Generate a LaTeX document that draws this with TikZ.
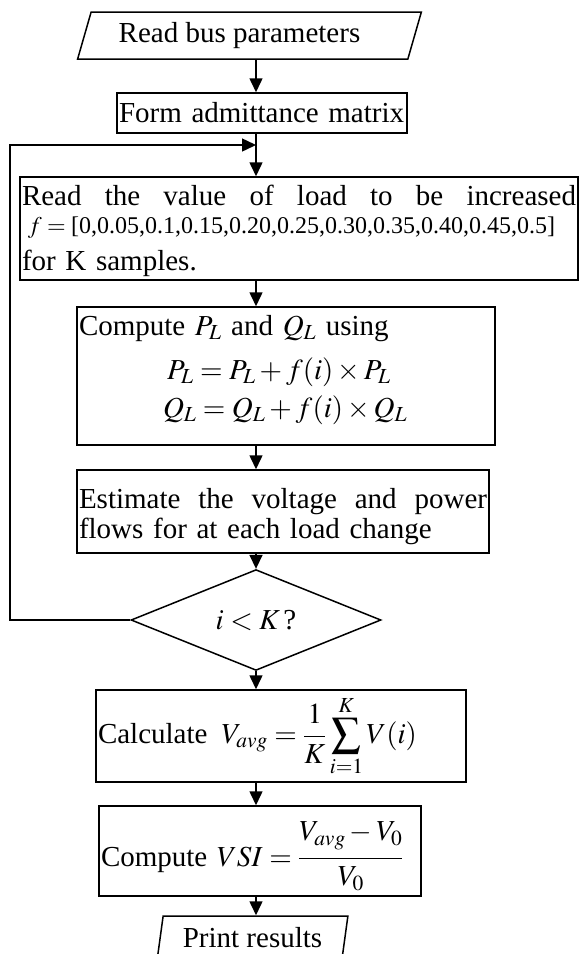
\documentclass[tikz,border=0pt]{standalone}
\usepackage{mathptmx}
\usepackage{fontspec}
\setmainfont{Liberation Serif}
\usetikzlibrary{arrows.meta,shapes.geometric}
\newcommand{\fillline}[2]{\makebox[#1][s]{\spaceskip=0pt\xspaceskip=0pt #2}}
\tikzset{
  blk/.style={draw, line width=1.5pt, rectangle, inner xsep=2pt, inner ysep=0pt},
  iobox/.style={draw, line width=1.5pt, trapezium, trapezium stretches=true, inner sep=0pt},
  decide/.style={draw, line width=1.5pt, diamond, inner sep=0pt},
  flowarr/.style={-{Triangle[length=14pt,width=13pt]}, line width=1.5pt},
}

\begin{document}
\begin{tikzpicture}[x=1pt, y=-1pt, font=\fontsize{29}{32}\selectfont]
  \useasboundingbox (0,0) rectangle (579,954);
  % main axis and loop corner
  \coordinate (ax) at (256,0);
  \coordinate (lpin) at (256,145);
  \coordinate (lpx) at (10,145);

  \node[iobox, trapezium left angle=67, trapezium right angle=113,
        minimum width=345pt, minimum height=47pt] (bus) at (249.5,35.5)
        {Read bus parameters\hspace*{20pt}};
  \node[blk, text width=286pt, minimum height=40pt] (form) at (262,113)
        {Form admittance matrix};
  \node[blk, text width=554pt, text height=28pt, text depth=75pt,
        minimum height=103pt] (read) at (299,228.5)
        {\fillline{554pt}{Read the value of load to be increased}\\[-4pt]
         {\fontsize{24}{26}\selectfont\hspace*{6pt}$f={}$[0,0.05,0.1,0.15,0.20,0.25,0.30,0.35,0.40,0.45,0.5]}\\[5pt]
         for K samples.};
  \node[blk, text width=414pt, minimum height=138pt] (pq) at (286,376)
        {Compute $P_L$ and $Q_L$ using\\[12pt]
         \hspace*{88pt}$P_L = P_L + f(i)\times P_L$\\[6pt]
         \hspace*{84pt}$Q_L = Q_L + f(i)\times Q_L$\rule[-20pt]{0pt}{1pt}};
  \node[blk, text width=408pt, text height=38pt, text depth=45pt,
        minimum height=83pt, font=\fontsize{29}{30}\selectfont] (est) at (283,511.5)
        {\fillline{408pt}{Estimate the voltage and power}\\
         flows for at each load change};
  \node[decide, minimum width=250pt, minimum height=74pt] (test) at (256,620)
        {$i<K\,$?};
  \node[blk, text width=366pt, minimum height=92pt] (vavg) at (281,736)
        {Calculate\hspace*{14pt}$\displaystyle V_{avg} = \frac{1}{K}\sum_{i=1}^{K}V(i)$};
  \node[blk, text width=318pt, text height=60pt, text depth=30pt,
        minimum height=90pt] (vsi) at (260,851)
        {Compute $\displaystyle VSI=\frac{V_{avg}-V_0\rule[-14pt]{0pt}{1pt}}{V_0}$};
  \node[iobox, trapezium left angle=77, trapezium right angle=103,
        minimum width=191pt, minimum height=44pt] (prt) at (252.5,938)
        {Print results};

  \draw[flowarr] (bus.south -| ax) -- (form.north -| ax);
  \draw[flowarr] (form.south -| ax) -- (read.north -| ax);
  \draw[flowarr] (test.west) -| (lpx) -- (lpin);
  \draw[flowarr] (read.south -| ax) -- (pq.north -| ax);
  \draw[flowarr] (pq.south -| ax) -- (est.north -| ax);
  \draw[flowarr] (est.south -| ax) -- (test.north);
  \draw[flowarr] (test.south) -- (vavg.north -| ax);
  \draw[flowarr] (vavg.south -| ax) -- (vsi.north -| ax);
  \draw[flowarr] (vsi.south -| ax) -- (prt.north -| ax);
\end{tikzpicture}
\end{document}
